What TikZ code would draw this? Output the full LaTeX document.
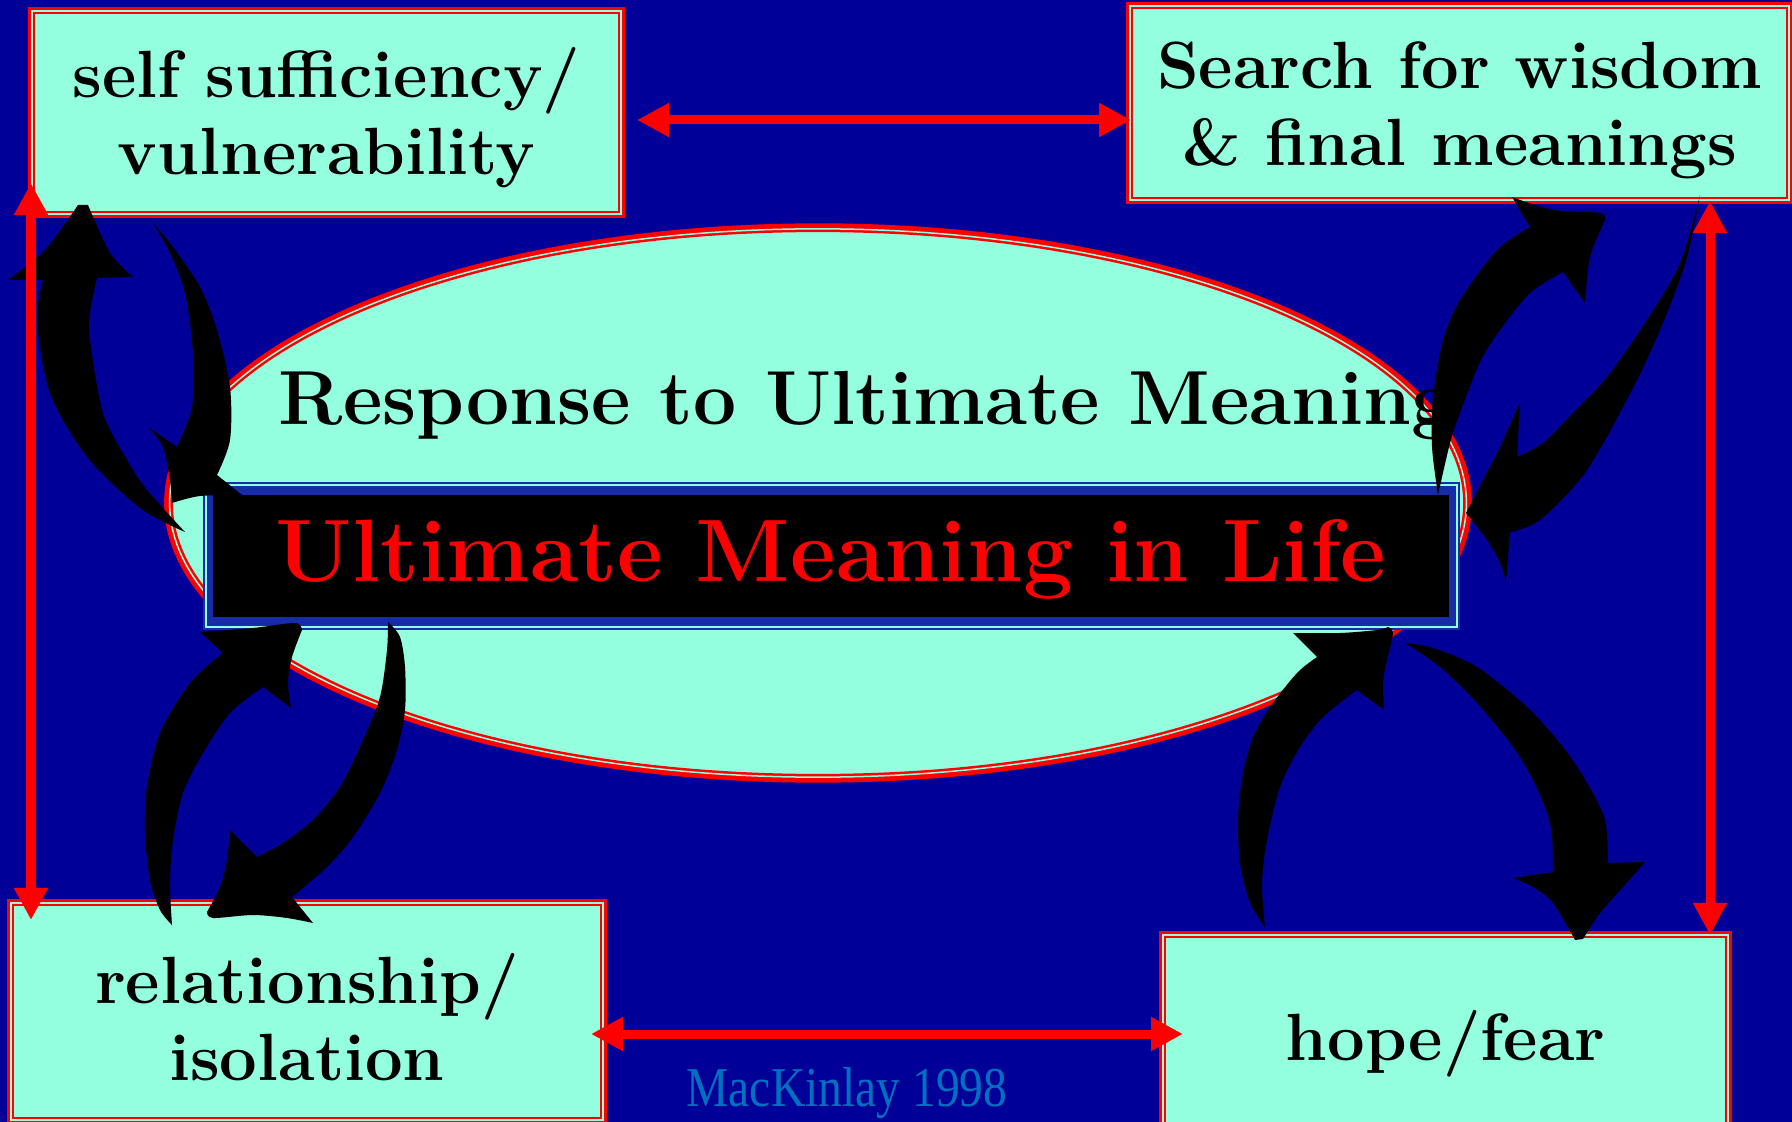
\documentclass[tikz,border=0pt]{standalone}
\usepackage{fontspec}
\newfontfamily\creditfont{Liberation Serif}
\usetikzlibrary{arrows.meta}
\definecolor{deepblue}{RGB}{0,0,153}
\definecolor{aqua}{RGB}{147,255,223}
\definecolor{frameblue}{RGB}{22,44,168}
\definecolor{creditblue}{RGB}{0,112,192}

\begin{document}
\begin{tikzpicture}[x=0.01cm, y=-0.01cm,
    panel/.style={draw=red, double=aqua, line width=0.22mm, double distance=0.2mm,
      preaction={draw=red, line width=0.8mm},
      fill=aqua, inner sep=0pt, align=center,
      font=\fontsize{19}{21.9}\selectfont\bfseries},
    lift/.style={execute at begin node=\rule{0pt}{#1}},
    link/.style={red, line width=0.9mm,
      {Triangle[length=3.2mm,width=3.2mm]}-{Triangle[length=3.2mm,width=3.2mm]}},
    swirl/.style={fill=black}]

  % page
  \useasboundingbox (0,0) rectangle (1792,1122);
  \fill[deepblue] (0,0) rectangle (1792,1122);

  % centre: ring and black banner
  \draw[draw=red, double=aqua, line width=0.25mm, double distance=0.15mm, fill=aqua,
        preaction={draw=red, line width=1.1mm}]
    (818,503) ellipse [x radius=6.48cm, y radius=2.74cm];
  \fill[frameblue] (203,482) rectangle (1460,630);
  \draw[aqua, line width=0.2mm] (206,485) rectangle (1457,627);
  \fill[black] (213,495) rectangle (1449,617);

  \node (response) [anchor=base west, inner sep=0pt, font=\fontsize{21.8}{24}\selectfont\bfseries]
    at (278,425) {Response to Ultimate Meaning};
  \node (life) [anchor=base, inner sep=0pt, text=red, font=\fontsize{25.2}{28}\selectfont\bfseries]
    at (831,581) {Ultimate Meaning in Life};

  % the four corner boxes
  \node (selfbox) [panel, lift=13.8mm, minimum width=5.89cm, minimum height=2.03cm] at (326.5,112.5)
    {self sufficiency/\\vulnerability};
  \node (wisdombox) [panel, lift=13.8mm, minimum width=6.59cm, minimum height=1.94cm] at (1459.5,103)
    {Search for wisdom\\\& final meanings};
  \node (relbox) [panel, lift=13.8mm, minimum width=5.92cm, minimum height=2.17cm] at (307,1011.5)
    {relationship/\\isolation};
  \node (hopebox) [panel, lift=6.8mm, minimum width=5.65cm, minimum height=2.00cm] at (1445.5,1035)
    {hope/fear};

  \node (credit) [anchor=base, inner sep=0pt, text=creditblue, font=\creditfont\fontsize{16}{18}\selectfont]
    at (847,1106) {\scalebox{0.845}[1]{MacKinlay 1998}};

  % curved black arrows, top left pair
  \fill[swirl] (185,532) -- plot[smooth] coordinates {(185,532) (140,508) (87,457) (50,393) (37,320) (43,280)}
    -- (8,280) -- plot[smooth] coordinates {(8,280) (45,250) (78,205)}
    -- (88,205) -- plot[smooth] coordinates {(88,205) (110,253) (133,277)}
    -- (97,278) -- plot[smooth] coordinates {(97,278) (90,313) (90,340) (103,413) (127,460) (147,490) (185,532)} -- cycle;
  \fill[swirl] (153,223) -- plot[smooth] coordinates {(153,223) (173,247) (200,287) (217,330) (230,387) (230,440) (217,475)}
    -- (242,495) -- plot[smooth] coordinates {(242,495) (200,496) (172,503)}
    -- plot[smooth] coordinates {(172,503) (170,480) (163,447) (148,427)}
    -- (177,447) -- plot[smooth] coordinates {(177,447) (192,407) (193,353) (185,293) (170,253) (153,223)} -- cycle;

  % top right pair
  \fill[swirl] (1438,495) -- plot[smooth] coordinates {(1438,495) (1432,447) (1433,397) (1443,340) (1460,300) (1497,250) (1530,227)}
    -- (1512,197) -- plot[smooth] coordinates {(1512,197) (1553,210) (1600,213) (1605,220)}
    -- plot[smooth] coordinates {(1605,220) (1590,257) (1585,303)}
    -- (1563,272) -- plot[smooth] coordinates {(1563,272) (1530,293) (1500,330) (1480,362) (1460,413) (1450,443) (1438,495)} -- cycle;
  \fill[swirl] (1700,195) -- plot[smooth] coordinates {(1700,195) (1680,263) (1647,320) (1607,377) (1573,413) (1543,443) (1517,457)}
    -- (1520,402) -- plot[smooth] coordinates {(1520,402) (1500,447) (1483,480) (1466,513)}
    -- plot[smooth] coordinates {(1466,513) (1487,540) (1500,563) (1506,582)}
    -- (1510,532) -- plot[smooth] coordinates {(1510,532) (1540,520) (1587,470) (1637,380) (1667,313) (1687,257) (1700,195)} -- cycle;

  % bottom left pair
  \fill[swirl] (172,925) -- plot[smooth] coordinates {(172,925) (160,910) (150,880) (145,833) (147,787) (160,733) (190,683) (223,653)}
    -- (200,632) -- plot[smooth] coordinates {(200,632) (253,628) (295,623) (302,630)}
    -- plot[smooth] coordinates {(302,630) (292,657) (288,683) (291,708)}
    -- (263,687) -- plot[smooth] coordinates {(263,687) (230,713) (203,753) (183,793) (173,840) (170,883) (172,925)} -- cycle;
  \fill[swirl] (388,622) -- plot[smooth] coordinates {(388,622) (400,637) (405,667) (405,710) (397,750) (380,793) (353,837) (327,867) (292,897)}
    -- (313,923) -- plot[smooth] coordinates {(313,923) (287,918) (253,915) (213,918) (207,912)}
    -- plot[smooth] coordinates {(207,912) (220,887) (227,860) (230,830)}
    -- (257,857) -- plot[smooth] coordinates {(257,857) (283,843) (313,820) (340,787) (363,740) (380,697) (387,650) (388,622)} -- cycle;

  % bottom right pair
  \fill[swirl] (1265,927) -- plot[smooth] coordinates {(1265,927) (1250,903) (1240,863) (1238,817) (1243,773) (1253,737) (1270,707) (1297,673) (1317,657)}
    -- (1293,633) -- plot[smooth] coordinates {(1293,633) (1340,633) (1377,630) (1388,627)}
    -- plot[smooth] coordinates {(1388,627) (1393,633) (1387,660) (1383,683) (1384,710)}
    -- (1357,690) -- plot[smooth] coordinates {(1357,690) (1323,717) (1300,747) (1280,787) (1267,840) (1262,883) (1265,927)} -- cycle;
  \fill[swirl] (1405,643) -- plot[smooth] coordinates {(1405,643) (1433,648) (1477,667) (1527,707) (1563,747) (1587,783) (1605,820) (1608,863)}
    -- (1645,862) -- plot[smooth] coordinates {(1645,862) (1623,887) (1600,913) (1583,939)}
    -- (1575,940) -- plot[smooth] coordinates {(1575,940) (1553,903) (1533,887) (1513,878)}
    -- (1553,872) -- plot[smooth] coordinates {(1553,872) (1552,837) (1547,813) (1533,780) (1513,747) (1477,703) (1440,667) (1405,643)} -- cycle;

  % red double arrows between the boxes
  \coordinate (selfE) at (637,120);
  \coordinate (wisdomW) at (1131,120);
  \coordinate (relE) at (591,1034);
  \coordinate (hopeW) at (1183,1034);
  \coordinate (selfS) at (31,183);
  \coordinate (relN) at (31,920);
  \coordinate (wisdomS) at (1710,201);
  \coordinate (hopeN) at (1710,935);

  \draw[link] (selfE) -- (wisdomW);
  \draw[link] (relE) -- (hopeW);
  \draw[link] (selfS) -- (relN);
  \draw[link] (wisdomS) -- (hopeN);
\end{tikzpicture}
\end{document}
